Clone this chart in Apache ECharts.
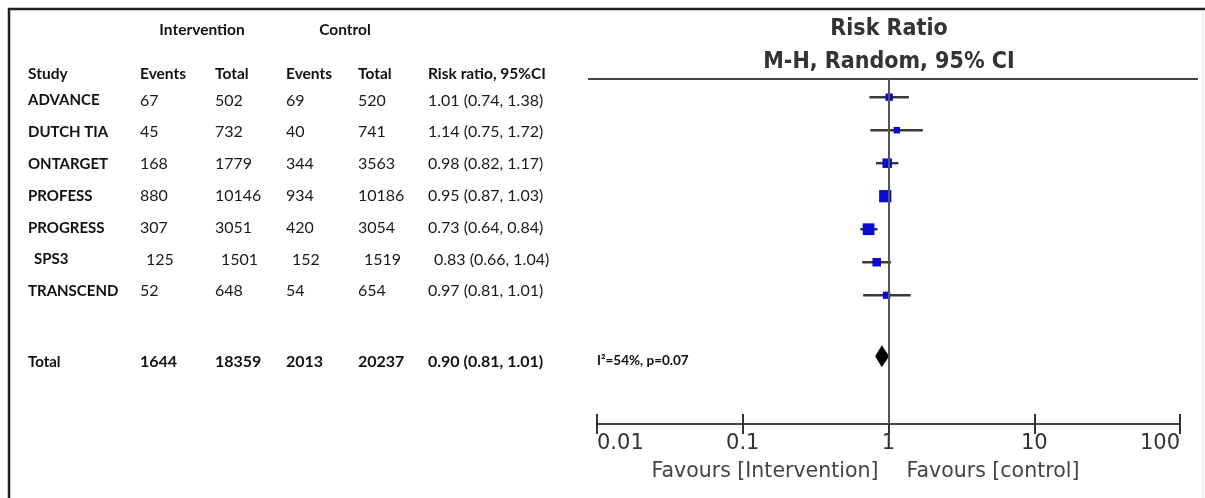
<!DOCTYPE html>
<html>
<head>
<meta charset="utf-8">
<script src="https://cdn.jsdelivr.net/npm/echarts@6/dist/echarts.min.js"></script>
<style>
html,body{margin:0;padding:0;background:#fff;}
#chart{width:1205px;height:498px;}
</style>
</head>
<body>
<div id="chart"></div>
<script>
// ---- data ----
const studies = ['ADVANCE','DUTCH TIA','ONTARGET','PROFESS','PROGRESS','SPS3','TRANSCEND'];
const intEvents = [67, 45, 168, 880, 307, 125, 52];
const intTotal = [502, 732, 1779, 10146, 3051, 1501, 648];
const ctlEvents = [69, 40, 344, 934, 420, 152, 54];
const ctlTotal = [520, 741, 3563, 10186, 3054, 1519, 654];
// risk ratios as printed in the table
const rr = [1.01, 1.14, 0.98, 0.95, 0.73, 0.83, 0.97];
const rrLow = [0.74, 0.75, 0.82, 0.87, 0.64, 0.66, 0.81];
const rrHigh = [1.38, 1.72, 1.17, 1.03, 0.84, 1.04, 1.01];
// confidence intervals as drawn in the forest plot
const plotLow = [0.74, 0.75, 0.82, 0.87, 0.64, 0.66, 0.67];
const plotHigh = [1.38, 1.72, 1.17, 1.03, 0.84, 1.04, 1.42];
const weights = [9, 7, 15, 25, 23, 12, 9]; // approx. % weight (square size)
const total = {events1: 1644, total1: 18359, events2: 2013, total2: 20237, rr: 0.90, low: 0.81, high: 1.01};
const heterogeneity = 'I²=54%, p=0.07';
const tickValues = [0.01, 0.1, 1, 10, 100];
const tickLabels = ['0.01', '0.1', '1', '10', '100'];

// ---- layout ----
const fmt = v => v.toFixed(2);
const tableFont = 'Lato, "Open Sans", sans-serif';
const plotFont = '"DejaVu Sans", sans-serif';
const titleFont = '"DejaVu Sans Condensed", "DejaVu Sans", sans-serif';
const colX = [28, 140, 215, 286, 358, 428];
const rowY0 = 100.5, rowStep = 31.8, totalY = 362;
const totalRowValue = 7.85;
const boldFont = 'bold 15px ' + tableFont;
const headFont = 'bold 15.5px ' + tableFont;
const normalFont = '16px ' + tableFont;

const graphics = [];
function txt(x, y, s, opt) {
  opt = opt || {};
  graphics.push({type: 'text', x: x, y: y, silent: true, style: {
    text: s, font: opt.font || boldFont, fill: opt.fill || '#111',
    textAlign: opt.align || 'left', textVerticalAlign: 'middle'
  }});
}
// frame
graphics.push({type: 'line', silent: true, shape: {x1: 8, y1: 9, x2: 1205, y2: 9}, style: {stroke: '#222', lineWidth: 2.5}});
graphics.push({type: 'line', silent: true, shape: {x1: 9, y1: 8, x2: 9, y2: 498}, style: {stroke: '#222', lineWidth: 2.5}});
graphics.push({type: 'line', silent: true, shape: {x1: 1203, y1: 10, x2: 1203, y2: 498}, style: {stroke: '#e4e4e4', lineWidth: 1}});
// header line under titles
graphics.push({type: 'line', silent: true, shape: {x1: 588, y1: 79, x2: 1198, y2: 79}, style: {stroke: '#444', lineWidth: 2}});

// table headers
txt(202, 30, 'Intervention', {align: 'center', font: headFont});
txt(345, 30, 'Control', {align: 'center', font: headFont});
const heads = ['Study', 'Events', 'Total', 'Events', 'Total', 'Risk ratio, 95%CI'];
heads.forEach((h, j) => txt(colX[j], 74, h, {font: headFont}));
studies.forEach((s, i) => {
  const y = rowY0 + i * rowStep;
  const shift = s === 'SPS3' ? 6 : 0;
  txt(colX[0] + shift, y, s);
  const cells = [intEvents[i], intTotal[i], ctlEvents[i], ctlTotal[i],
    fmt(rr[i]) + ' (' + fmt(rrLow[i]) + ', ' + fmt(rrHigh[i]) + ')'];
  cells.forEach((c, j) => txt(colX[j + 1] + shift, y, String(c), {font: normalFont, fill: '#1a1a1a'}));
});
txt(colX[0], totalY, 'Total');
[total.events1, total.total1, total.events2, total.total2,
 fmt(total.rr) + ' (' + fmt(total.low) + ', ' + fmt(total.high) + ')'].forEach((c, j) => txt(colX[j + 1], totalY, String(c), {font: 'bold 16px ' + tableFont}));
txt(597, 361, heterogeneity, {font: 'bold 13.5px ' + tableFont});

// plot titles
txt(889, 29, 'Risk Ratio', {font: 'bold 23px ' + titleFont, fill: '#333', align: 'center'});
txt(889, 62, 'M-H, Random, 95% CI', {font: 'bold 23px ' + titleFont, fill: '#333', align: 'center'});
// favours
txt(765, 472, 'Favours [Intervention]', {font: '20.5px ' + plotFont, fill: '#444', align: 'center'});
txt(993, 472, 'Favours [control]', {font: '20.5px ' + plotFont, fill: '#444', align: 'center'});

const studyData = studies.map((s, i) => [plotLow[i], rr[i], plotHigh[i], i, Math.sqrt(weights[i]) * 2.45]);

const chart = echarts.init(document.getElementById('chart'), null, {renderer: 'canvas'});
const xBase = {
  type: 'log', logBase: 10, min: 0.01, max: 100, gridIndex: 0, position: 'bottom',
  splitLine: {show: false}, minorTick: {show: false}, minorSplitLine: {show: false}
};
chart.setOption({
  animation: false,
  backgroundColor: '#fff',
  grid: {left: 597, right: 25, top: 79, bottom: 74, containLabel: false, outerBoundsMode: 'none'},
  xAxis: [
    Object.assign({}, xBase, {
      axisLine: {show: true, onZero: false, lineStyle: {color: '#444', width: 2}},
      axisTick: {show: true, inside: false, length: 10, lineStyle: {color: '#333', width: 2}},
      axisLabel: {
        show: true, margin: 9, color: '#333', fontFamily: '"DejaVu Sans", sans-serif', fontSize: 21,
        alignMinLabel: 'left', alignMaxLabel: 'right',
        formatter: v => { const k = tickValues.findIndex(t => Math.abs(Math.log10(t) - Math.log10(v)) < 1e-6); return k >= 0 ? tickLabels[k] : ''; }
      }
    }),
    Object.assign({}, xBase, {
      offset: 0,
      axisLine: {show: false, onZero: false},
      axisTick: {show: true, inside: true, length: 10, lineStyle: {color: '#333', width: 2}},
      axisLabel: {show: false}
    })
  ],
  yAxis: {type: 'value', min: -0.55, max: 9.9, inverse: true, show: false},
  series: [
    {
      type: 'custom', xAxisIndex: 0, yAxisIndex: 0, silent: true,
      encode: {x: [0, 1, 2], y: 3},
      data: studyData,
      renderItem: function (params, api) {
        const y = api.value(3);
        const a = api.coord([api.value(0), y]);
        const b = api.coord([api.value(2), y]);
        const c = api.coord([api.value(1), y]);
        const s = api.value(4);
        return {type: 'group', children: [
          {type: 'line', shape: {x1: a[0], y1: a[1], x2: b[0], y2: b[1]}, style: {stroke: '#3a3a3a', lineWidth: 2.5}},
          {type: 'rect', shape: {x: c[0] - s / 2, y: c[1] - s / 2, width: s, height: s}, style: {fill: '#0a0ad0'}}
        ]};
      },
      markLine: {
        silent: true, symbol: 'none', label: {show: false},
        lineStyle: {color: '#555', width: 2, type: 'solid'},
        data: [{xAxis: 1}]
      }
    },
    {
      type: 'custom', xAxisIndex: 0, yAxisIndex: 0, silent: true,
      encode: {x: [0, 1, 2], y: 3},
      data: [[total.low, total.rr, total.high, totalRowValue]],
      renderItem: function (params, api) {
        const y = api.value(3);
        const a = api.coord([api.value(0), y]);
        const b = api.coord([api.value(2), y]);
        const c = api.coord([api.value(1), y]);
        const h = 11;
        return {type: 'polygon', shape: {points: [[a[0], a[1]], [c[0], c[1] - h], [b[0], b[1]], [c[0], c[1] + h]]}, style: {fill: '#000'}};
      }
    }
  ],
  graphic: graphics
});
</script>
</body>
</html>
